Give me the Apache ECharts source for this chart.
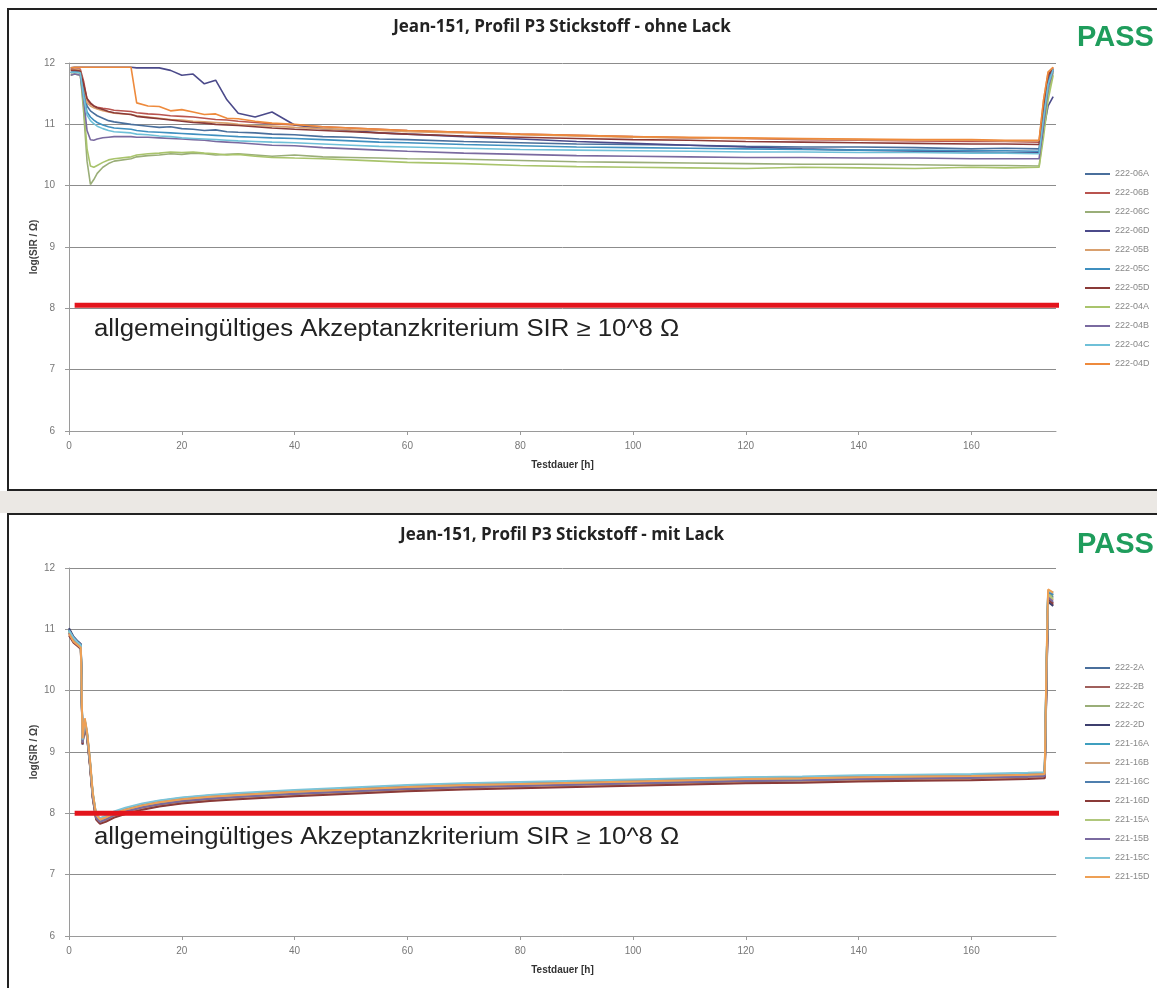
<!DOCTYPE html>
<html>
<head>
    <meta charset="UTF-8">
    <title>Jean-151, Profil P3 Stickstoff</title>
    <script src="https://cdn.jsdelivr.net/npm/echarts@6/dist/echarts.min.js"></script>
    <style>
        html, body {margin: 0; padding: 0; background: #fff;}
        #chart {width: 1157px; height: 988px;}
    </style>
</head>
<body>
<div id="chart"></div>
<script type="text/javascript">
    // Messzeitpunkte (Testdauer in h)
    var hoursTop = [0.3, 1, 2, 2.6, 3.2, 3.8, 4.4, 5, 6, 7, 8, 11, 12, 14, 16, 18, 20, 22, 24, 26, 28, 30, 33, 36, 40, 45, 50, 55, 60, 70,
        80, 90, 100, 110, 120, 130, 140, 150, 160, 166, 172, 172.8, 173.6, 174.5];
    var hoursBot = [0, 0.8, 1.6, 2.1, 2.4, 2.8, 3.2, 3.7, 4.2, 4.8, 5.5, 6.5, 8, 10, 13, 16, 20, 25, 30, 40,
        50, 60, 70, 80, 90, 100, 110, 120, 130, 140, 150, 160, 170, 173, 173.3, 173.6, 174.5];
    var xTicks = [0, 20, 40, 60, 80, 100, 120, 140, 160];
    var yTicks = [6, 7, 8, 9, 10, 11, 12];

    // Akzeptanzkriterium log(SIR) = 8
    var limitTop = 8.05;
    var limitBot = 8;
    var limitHours = [1, 176];

    // ohne Lack
    var namesTop = ['222-06A', '222-06B', '222-06C', '222-06D', '222-05B', '222-05C', '222-05D', '222-04A', '222-04B', '222-04C', '222-04D'];
    var colorsTop = ['#4a6f9c', '#b9544f', '#9aae78', '#4b4a8a', '#d9a06e', '#3f8fbf', '#8a3a38', '#a9c46c', '#7a6aa0', '#6fc0d8', '#ee8a3c'];
    var v06A = [11.84, 11.85, 11.84, 11.6, 11.3, 11.22, 11.18, 11.14, 11.1, 11.06, 11.04, 11.0, 10.99, 10.97, 10.95, 10.96, 10.93, 10.92, 10.9, 10.91, 10.88, 10.87,
        10.86, 10.84, 10.83, 10.8, 10.79, 10.76, 10.75, 10.72, 10.7, 10.68, 10.67, 10.66, 10.64, 10.63, 10.63, 10.62, 10.6, 10.61, 10.6, 11.2, 11.75, 11.9];
    var v06B = [11.9, 11.9, 11.9, 11.7, 11.4, 11.33, 11.3, 11.28, 11.26, 11.25, 11.23, 11.21, 11.19, 11.17, 11.16, 11.14, 11.13, 11.12, 11.1, 11.08, 11.07, 11.05,
        11.03, 11.01, 10.99, 10.96, 10.94, 10.92, 10.9, 10.87, 10.84, 10.82, 10.8, 10.78, 10.77, 10.75, 10.74, 10.73, 10.72, 10.72, 10.71, 11.3, 11.8, 11.92];
    var v06C = [11.84, 11.85, 11.84, 11.2, 10.4, 10.02, 10.1, 10.2, 10.3, 10.36, 10.4, 10.44, 10.47, 10.49, 10.5, 10.52, 10.51, 10.53, 10.52, 10.5, 10.51, 10.52,
        10.5, 10.48, 10.5, 10.47, 10.46, 10.45, 10.44, 10.43, 10.41, 10.39, 10.38, 10.37, 10.36, 10.35, 10.35, 10.34, 10.33, 10.33, 10.32, 10.9, 11.5, 11.85];
    var v06D = [11.92, 11.93, 11.93, 11.93, 11.93, 11.93, 11.93, 11.93, 11.93, 11.93, 11.93, 11.93, 11.92, 11.92, 11.92, 11.88, 11.8, 11.82, 11.66, 11.72, 11.4, 11.18,
        11.12, 11.2, 10.99, 10.93, 10.9, 10.86, 10.84, 10.8, 10.76, 10.72, 10.69, 10.66, 10.63, 10.6, 10.58, 10.56, 10.55, 10.54, 10.54, 10.9, 11.3, 11.45];
    var v05B = [11.88, 11.9, 11.88, 11.6, 11.35, 11.3, 11.27, 11.25, 11.22, 11.2, 11.18, 11.16, 11.14, 11.12, 11.1, 11.08, 11.07, 11.05, 11.04, 11.03, 11.02, 11.0,
        10.98, 10.97, 10.95, 10.93, 10.91, 10.9, 10.88, 10.86, 10.83, 10.81, 10.79, 10.78, 10.77, 10.76, 10.75, 10.74, 10.74, 10.73, 10.73, 11.4, 11.85, 11.93];
    var v05C = [11.85, 11.86, 11.85, 11.5, 11.2, 11.12, 11.07, 11.03, 10.99, 10.96, 10.94, 10.92, 10.9, 10.88, 10.87, 10.86, 10.85, 10.84, 10.83, 10.82, 10.81, 10.8,
        10.79, 10.78, 10.77, 10.75, 10.73, 10.71, 10.7, 10.67, 10.65, 10.63, 10.62, 10.61, 10.6, 10.59, 10.58, 10.58, 10.57, 10.57, 10.56, 11.2, 11.7, 11.88];
    var v05D = [11.88, 11.88, 11.87, 11.65, 11.42, 11.35, 11.3, 11.27, 11.24, 11.21, 11.19, 11.16, 11.13, 11.11, 11.09, 11.07, 11.05, 11.03, 11.02, 11.0, 10.99, 10.98,
        10.96, 10.94, 10.92, 10.9, 10.88, 10.86, 10.84, 10.81, 10.79, 10.77, 10.75, 10.74, 10.72, 10.71, 10.7, 10.69, 10.68, 10.68, 10.67, 11.3, 11.8, 11.9];
    var v04A = [11.8, 11.82, 11.8, 11.3, 10.6, 10.32, 10.3, 10.33, 10.38, 10.42, 10.44, 10.47, 10.5, 10.52, 10.53, 10.55, 10.54, 10.55, 10.53, 10.52, 10.5, 10.51,
        10.48, 10.46, 10.45, 10.44, 10.42, 10.4, 10.38, 10.36, 10.33, 10.31, 10.3, 10.29, 10.28, 10.3, 10.29, 10.28, 10.3, 10.29, 10.3, 10.8, 11.4, 11.8];
    var v04B = [11.8, 11.82, 11.8, 11.4, 10.9, 10.75, 10.74, 10.76, 10.78, 10.79, 10.8, 10.8, 10.79, 10.79, 10.78, 10.77, 10.76, 10.75, 10.74, 10.72, 10.71, 10.7,
        10.68, 10.66, 10.65, 10.62, 10.6, 10.58, 10.56, 10.53, 10.51, 10.49, 10.48, 10.47, 10.46, 10.46, 10.45, 10.45, 10.44, 10.44, 10.44, 11.0, 11.6, 11.88];
    var v04C = [11.85, 11.85, 11.84, 11.45, 11.15, 11.06, 11.01, 10.97, 10.93, 10.9, 10.88, 10.86, 10.84, 10.83, 10.81, 10.8, 10.78, 10.77, 10.76, 10.75, 10.74, 10.73,
        10.72, 10.71, 10.7, 10.68, 10.66, 10.64, 10.63, 10.61, 10.59, 10.58, 10.57, 10.56, 10.55, 10.55, 10.54, 10.54, 10.53, 10.53, 10.52, 11.1, 11.65, 11.9];
    var v04D = [11.92, 11.93, 11.93, 11.93, 11.93, 11.93, 11.93, 11.93, 11.93, 11.93, 11.93, 11.93, 11.35, 11.3, 11.29, 11.22, 11.24, 11.2, 11.16, 11.17, 11.1, 11.09,
        11.05, 11.02, 11.0, 10.96, 10.94, 10.92, 10.9, 10.87, 10.84, 10.82, 10.8, 10.79, 10.78, 10.77, 10.76, 10.75, 10.75, 10.74, 10.74, 11.4, 11.85, 11.93];
    var valuesTop = [v06A, v06B, v06C, v06D, v05B, v05C, v05D, v04A, v04B, v04C, v04D];

    // mit Lack
    var namesBot = ['222-2A', '222-2B', '222-2C', '222-2D', '221-16A', '221-16B', '221-16C', '221-16D', '221-15A', '221-15B', '221-15C', '221-15D'];
    var colorsBot = ['#4a6f9c', '#a0605c', '#9aae78', '#3d3f6e', '#3f9fbf', '#d0a27a', '#4f7fae', '#8a3a38', '#b0c77c', '#7a6aa0', '#7cc4d8', '#eea055'];
    var v2A = [11.0, 10.86, 10.79, 10.74, 9.18, 9.48, 9.28, 8.84, 8.3, 7.95, 7.88, 7.92, 7.99, 8.05, 8.12, 8.17, 8.22, 8.26, 8.29, 8.34,
        8.38, 8.42, 8.45, 8.47, 8.49, 8.51, 8.53, 8.55, 8.56, 8.58, 8.59, 8.6, 8.62, 8.63, 10.2, 11.58, 11.52];
    var v2B = [10.95, 10.82, 10.75, 10.7, 9.15, 9.45, 9.25, 8.8, 8.27, 7.92, 7.85, 7.88, 7.95, 8.01, 8.08, 8.13, 8.18, 8.22, 8.25, 8.3,
        8.34, 8.38, 8.41, 8.43, 8.45, 8.47, 8.49, 8.51, 8.52, 8.54, 8.55, 8.56, 8.58, 8.59, 10.1, 11.5, 11.4];
    var v2C = [10.98, 10.85, 10.78, 10.73, 9.2, 9.52, 9.3, 8.86, 8.33, 7.97, 7.9, 7.93, 8.0, 8.06, 8.13, 8.18, 8.23, 8.27, 8.3, 8.35,
        8.39, 8.43, 8.46, 8.48, 8.5, 8.52, 8.54, 8.56, 8.57, 8.59, 8.6, 8.61, 8.63, 8.64, 10.3, 11.6, 11.55];
    var v2D = [11.02, 10.88, 10.8, 10.76, 9.12, 9.46, 9.27, 8.82, 8.28, 7.93, 7.86, 7.89, 7.96, 8.02, 8.09, 8.14, 8.19, 8.23, 8.26, 8.31,
        8.35, 8.39, 8.42, 8.44, 8.46, 8.48, 8.5, 8.52, 8.53, 8.55, 8.56, 8.57, 8.59, 8.6, 10.0, 11.45, 11.38];
    var v16A = [10.97, 10.84, 10.77, 10.72, 9.17, 9.5, 9.29, 8.85, 8.31, 7.96, 7.89, 7.94, 8.01, 8.07, 8.14, 8.19, 8.24, 8.28, 8.31, 8.36,
        8.4, 8.44, 8.47, 8.49, 8.51, 8.53, 8.55, 8.57, 8.58, 8.6, 8.61, 8.62, 8.64, 8.65, 10.25, 11.62, 11.56];
    var v16B = [10.92, 10.8, 10.73, 10.69, 9.14, 9.47, 9.26, 8.81, 8.26, 7.91, 7.84, 7.87, 7.94, 8.0, 8.07, 8.12, 8.17, 8.21, 8.24, 8.29,
        8.33, 8.37, 8.4, 8.42, 8.44, 8.46, 8.48, 8.5, 8.51, 8.53, 8.54, 8.55, 8.57, 8.58, 10.15, 11.55, 11.48];
    var v16C = [10.99, 10.87, 10.79, 10.75, 9.19, 9.51, 9.31, 8.87, 8.32, 7.98, 7.91, 7.95, 8.02, 8.08, 8.15, 8.2, 8.25, 8.29, 8.32, 8.37,
        8.41, 8.45, 8.48, 8.5, 8.52, 8.54, 8.56, 8.58, 8.59, 8.61, 8.62, 8.63, 8.65, 8.66, 10.3, 11.6, 11.58];
    var v16D = [10.9, 10.78, 10.72, 10.68, 9.13, 9.44, 9.24, 8.79, 8.25, 7.9, 7.83, 7.86, 7.93, 7.99, 8.06, 8.11, 8.16, 8.2, 8.23, 8.28,
        8.32, 8.36, 8.39, 8.41, 8.43, 8.45, 8.47, 8.49, 8.5, 8.52, 8.53, 8.54, 8.56, 8.57, 10.05, 11.5, 11.42];
    var v15A = [10.96, 10.83, 10.76, 10.71, 9.16, 9.49, 9.28, 8.83, 8.29, 7.94, 7.87, 7.91, 7.98, 8.04, 8.11, 8.16, 8.21, 8.25, 8.28, 8.33,
        8.37, 8.41, 8.44, 8.46, 8.48, 8.5, 8.52, 8.54, 8.55, 8.57, 8.58, 8.59, 8.61, 8.62, 10.2, 11.57, 11.5];
    var v15B = [10.94, 10.81, 10.74, 10.7, 9.15, 9.48, 9.27, 8.82, 8.28, 7.93, 7.86, 7.9, 7.97, 8.03, 8.1, 8.15, 8.2, 8.24, 8.27, 8.32,
        8.36, 8.4, 8.43, 8.45, 8.47, 8.49, 8.51, 8.53, 8.54, 8.56, 8.57, 8.58, 8.6, 8.61, 10.1, 11.52, 11.45];
    var v15C = [10.98, 10.86, 10.78, 10.74, 9.2, 9.53, 9.32, 8.88, 8.34, 7.99, 7.92, 7.96, 8.03, 8.09, 8.16, 8.21, 8.26, 8.3, 8.33, 8.38,
        8.42, 8.46, 8.49, 8.51, 8.53, 8.55, 8.57, 8.59, 8.6, 8.62, 8.63, 8.64, 8.66, 8.67, 10.35, 11.63, 11.6];
    var v15D = [10.93, 10.8, 10.74, 10.7, 9.22, 9.55, 9.33, 8.9, 8.35, 7.98, 7.9, 7.93, 8.0, 8.06, 8.13, 8.18, 8.23, 8.27, 8.3, 8.35,
        8.39, 8.43, 8.46, 8.48, 8.5, 8.52, 8.54, 8.56, 8.57, 8.59, 8.6, 8.61, 8.63, 8.64, 10.4, 11.65, 11.6];
    var valuesBot = [v2A, v2B, v2C, v2D, v16A, v16B, v16C, v16D, v15A, v15B, v15C, v15D];

    var axisGray = '#9a9a9a';
    var labelFont = 'Liberation Sans';

    function pairs(hours, values) {
        var data = [];
        for (var i = 0; i < hours.length; i++) {
            data.push([hours[i], values[i]]);
        }
        return data;
    }

    function makeXAxis(idx) {
        return {
            gridIndex: idx,
            type: 'value',
            min: 0,
            max: 175,
            interval: 20,
            name: 'Testdauer [h]',
            nameLocation: 'middle',
            nameGap: 29,
            nameTextStyle: {fontFamily: labelFont, fontWeight: 'bold', fontSize: 10, color: '#333'},
            axisLine: {show: true, lineStyle: {color: axisGray}},
            axisTick: {show: true, length: 4, customValues: xTicks, lineStyle: {color: axisGray}},
            axisLabel: {customValues: xTicks, fontFamily: labelFont, fontSize: 10, color: '#777', margin: 10},
            splitLine: {show: false}
        };
    }

    function makeYAxis(idx) {
        return {
            gridIndex: idx,
            type: 'value',
            min: 6,
            max: 12,
            interval: 1,
            name: 'log(SIR / Ω)',
            nameLocation: 'middle',
            nameRotate: 90,
            nameGap: 30,
            nameMoveOverlap: false,
            nameTextStyle: {fontFamily: labelFont, fontWeight: 'bold', fontSize: 10, color: '#444'},
            axisLine: {show: true, lineStyle: {color: axisGray}},
            axisTick: {show: true, length: 4, customValues: yTicks, lineStyle: {color: axisGray}},
            axisLabel: {customValues: yTicks, fontFamily: labelFont, fontSize: 10, color: '#777', margin: 14},
            splitLine: {show: true, lineStyle: {color: '#8c8c8c', width: 1}}
        };
    }

    var series = [];
    for (var i = 0; i < namesTop.length; i++) {
        series.push({
            name: namesTop[i], type: 'line', xAxisIndex: 0, yAxisIndex: 0,
            symbol: 'none', data: pairs(hoursTop, valuesTop[i]),
            lineStyle: {color: colorsTop[i], width: 1.6}, itemStyle: {color: colorsTop[i]}
        });
    }
    for (var j = 0; j < namesBot.length; j++) {
        series.push({
            name: namesBot[j], type: 'line', xAxisIndex: 1, yAxisIndex: 1,
            symbol: 'none', data: pairs(hoursBot, valuesBot[j]),
            lineStyle: {color: colorsBot[j], width: 2}, itemStyle: {color: colorsBot[j]}
        });
    }
    // rote Grenzlinie
    series.push({
        name: 'limitTop', type: 'line', xAxisIndex: 0, yAxisIndex: 0, symbol: 'none', clip: false, z: 5,
        data: [[limitHours[0], limitTop], [limitHours[1], limitTop]],
        lineStyle: {color: '#e3141c', width: 5}
    });
    series.push({
        name: 'limitBot', type: 'line', xAxisIndex: 1, yAxisIndex: 1, symbol: 'none', clip: false, z: 5,
        data: [[limitHours[0], limitBot], [limitHours[1], limitBot]],
        lineStyle: {color: '#e3141c', width: 5}
    });

    var legendBase = {
        orient: 'vertical',
        left: 1080,
        icon: 'rect',
        itemWidth: 25,
        itemHeight: 2,
        itemGap: 9,
        textStyle: {fontFamily: labelFont, fontSize: 9, color: '#888', lineHeight: 10}
    };

    var annot = 'allgemeingültiges Akzeptanzkriterium SIR ≥ 10^8 Ω';
    var titleFont = 'bold 17px "Open Sans"';
    var passFont = 'bold 29px "Liberation Sans"';

    var option = {
        animation: false,
        backgroundColor: '#fff',
        grid: [
            {left: 69, top: 63, width: 987, height: 368},
            {left: 69, top: 568, width: 987, height: 368}
        ],
        xAxis: [makeXAxis(0), makeXAxis(1)],
        yAxis: [makeYAxis(0), makeYAxis(1)],
        legend: [
            Object.assign({}, legendBase, {top: 164, data: namesTop}),
            Object.assign({}, legendBase, {top: 658, data: namesBot})
        ],
        graphic: [
            {type: 'rect', shape: {x: 8, y: 9, width: 1160, height: 481}, style: {fill: null, stroke: '#222', lineWidth: 2}, silent: true},
            {type: 'rect', shape: {x: 0, y: 491, width: 1157, height: 22}, style: {fill: '#ebe8e4'}, silent: true},
            {type: 'rect', shape: {x: 8, y: 514, width: 1160, height: 480}, style: {fill: null, stroke: '#222', lineWidth: 2}, silent: true},
            {type: 'text', x: 562, y: 27, style: {text: 'Jean-151, Profil P3 Stickstoff - ohne Lack', textAlign: 'center', textVerticalAlign: 'middle',
                font: titleFont, fill: '#222'}},
            {type: 'text', x: 562, y: 535, style: {text: 'Jean-151, Profil P3 Stickstoff - mit Lack', textAlign: 'center', textVerticalAlign: 'middle',
                font: titleFont, fill: '#222'}},
            {type: 'text', x: 1077, y: 38, style: {text: 'PASS', textVerticalAlign: 'middle', font: passFont, fill: '#1f9d5c'}},
            {type: 'text', x: 1077, y: 545, style: {text: 'PASS', textVerticalAlign: 'middle', font: passFont, fill: '#1f9d5c'}},
            {type: 'text', x: 94, y: 330, scaleX: 1.12, style: {text: annot, textVerticalAlign: 'middle', font: '23px "Liberation Sans"', fill: '#222'}},
            {type: 'text', x: 94, y: 838, scaleX: 1.12, style: {text: annot, textVerticalAlign: 'middle', font: '23px "Liberation Sans"', fill: '#222'}}
        ],
        series: series
    };

    var myChart = echarts.init(document.getElementById('chart'));
    myChart.setOption(option);
</script>
</body>
</html>
